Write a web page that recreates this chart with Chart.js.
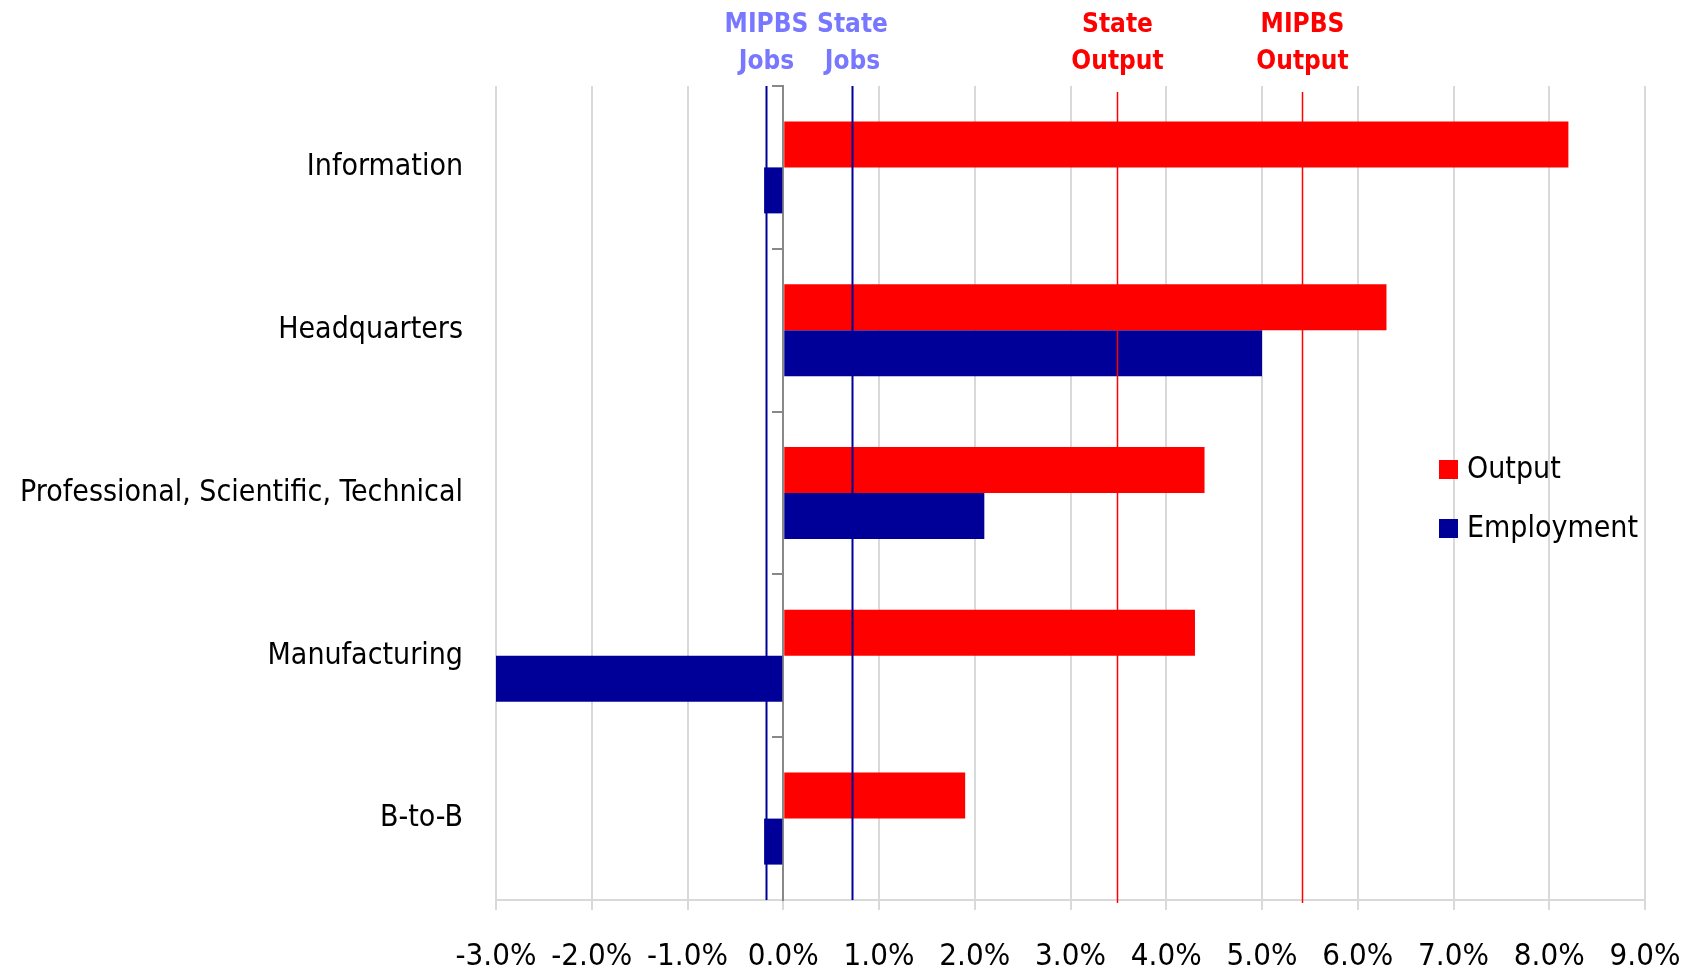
<!DOCTYPE html>
<html>
<head>
<meta charset="utf-8">
<script src="https://cdn.jsdelivr.net/npm/chart.js@4.4.1/dist/chart.umd.min.js"></script>
<style>
  html, body { margin: 0; padding: 0; background: #fff; }
  #wrap { width: 1696px; height: 974px; }
</style>
</head>
<body>
<div id="wrap"><canvas id="grafico" width="1696" height="974"></canvas></div>
<script>
// dados
const categorias = ['Information', 'Headquarters', 'Professional, Scientific, Technical', 'Manufacturing', 'B-to-B'];
const output = [8.2, 6.3, 4.4, 4.3, 1.9];
const employment = [-0.2, 5.0, 2.1, -3.0, -0.2];

// linhas de referência
const refNomes = [['MIPBS', 'Jobs'], ['State', 'Jobs'], ['State', 'Output'], ['MIPBS', 'Output']];
const refValores = [-0.18, 0.72, 3.49, 5.42];
const refCores = ['#000099', '#000099', '#ff0000', '#ff0000'];
const refCoresTexto = ['#7777ff', '#7777ff', '#ff0000', '#ff0000'];

const xMin = -3, xMax = 9, xPasso = 1;

const FONTE = "'Liberation Sans Narrow', 'Arial Narrow', 'DejaVu Sans Condensed', sans-serif";

const linhasRef = {
  id: 'linhasRef',
  afterDatasetsDraw(chart) {
    const { ctx, chartArea, scales } = chart;
    ctx.save();
    refValores.forEach((v, i) => {
      const x = Math.round(scales.x.getPixelForValue(v)) + 0.5;
      ctx.strokeStyle = refCores[i];
      ctx.lineWidth = refCores[i] === '#ff0000' ? 1.5 : 2;
      ctx.beginPath();
      ctx.moveTo(x, chartArea.top + (i >= 2 ? 6 : 0));
      ctx.lineTo(x, chartArea.bottom + (i >= 2 ? 3 : 0));
      ctx.stroke();
      ctx.fillStyle = refCoresTexto[i];
      ctx.font = 'bold 26px ' + FONTE;
      ctx.textAlign = 'center';
      ctx.textBaseline = 'middle';
      ctx.fillText(refNomes[i][0], x, 25);
      ctx.fillText(refNomes[i][1], x, 62);
    });
    // legenda
    const itens = [['Output', '#ff0000'], ['Employment', '#000099']];
    itens.forEach((it, i) => {
      const y = 470 + i * 59;
      ctx.fillStyle = it[1];
      ctx.fillRect(1439, y - 10, 19, 19);
      ctx.fillStyle = '#000';
      ctx.font = '30px ' + FONTE;
      ctx.textAlign = 'left';
      ctx.fillText(it[0], 1467, y);
    });
    ctx.restore();
  }
};

const ctx = document.getElementById('grafico').getContext('2d');
const grafico = new Chart(ctx, {
  type: 'bar',
  data: {
    labels: categorias,
    datasets: [
      { label: 'Output', data: output, backgroundColor: '#ff0000', categoryPercentage: 0.565, barPercentage: 1 },
      { label: 'Employment', data: employment, backgroundColor: '#000099', categoryPercentage: 0.565, barPercentage: 1 }
    ]
  },
  options: {
    indexAxis: 'y',
    responsive: false,
    animation: false,
    layout: { padding: { top: 86, right: 51, left: 0, bottom: 0 } },
    plugins: { legend: { display: false }, tooltip: { enabled: false } },
    scales: {
      x: {
        min: xMin, max: xMax,
        ticks: {
          stepSize: xPasso,
          padding: 28,
          color: '#000',
          font: { family: FONTE, size: 31 },
          callback: v => v.toFixed(1) + '%'
        },
        grid: { color: '#d9d9d9', lineWidth: 2, tickLength: 10 },
        border: { color: '#d9d9d9', width: 2 },
        afterFit: s => { s.height = 74; s.paddingLeft = 0; s.paddingRight = 0; }
      },
      y: {
        ticks: { color: '#000', padding: 25, font: { family: FONTE, size: 30 } },
        grid: { display: false },
        border: { display: false },
        afterFit: s => { s.width = 496; }
      },
      y2: {
        type: 'category',
        axis: 'y',
        labels: categorias,
        offset: true,
        position: { x: 0 },
        ticks: { display: false },
        grid: { drawOnChartArea: false, drawTicks: true, tickLength: 10, color: '#888', lineWidth: 2, offset: true },
        border: { display: true, color: '#888', width: 2 }
      }
    }
  },
  plugins: [linhasRef]
});
</script>
</body>
</html>
